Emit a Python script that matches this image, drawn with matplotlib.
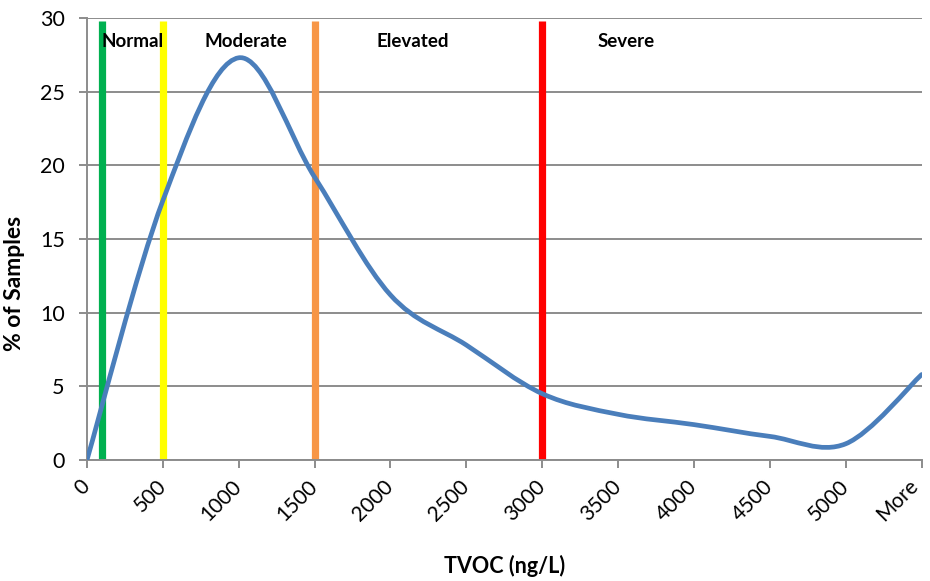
import matplotlib.pyplot as plt
import matplotlib.transforms as mtransforms
import numpy as np
from matplotlib.path import Path
from matplotlib.patches import PathPatch

# Data
categories = ['0', '500', '1000', '1500', '2000', '2500', '3000',
              '3500', '4000', '4500', '5000', 'More']
pct_samples = [0, 17.6, 27.3, 19.2, 11.2, 7.8, 4.5, 3.1, 2.4, 1.6, 1.1, 5.8]

thresholds = [100, 500, 1500, 3000]          # ng/L
threshold_colors = ['#00B050', '#FFFF00', '#F79646', '#FF0000']
bin_width = 500

zones = ['Normal', 'Moderate', 'Elevated', 'Severe']
zone_x = [300, 1050, 2150, 3550]             # label centres, ng/L


def smooth_path(xs, ys):
    # Excel-like smoothed line: cubic Bezier through every point
    pts = np.column_stack([xs, ys]).astype(float)
    n = len(pts)
    verts = [pts[0]]
    codes = [Path.MOVETO]
    for i in range(n - 1):
        p0 = pts[i - 1] if i > 0 else pts[i]
        p1 = pts[i]
        p2 = pts[i + 1]
        p3 = pts[i + 2] if i + 2 < n else pts[i + 1]
        c1 = p1 + (p2 - p0) / 6
        c2 = p2 - (p3 - p1) / 6
        verts += [c1, c2, p2]
        codes += [Path.CURVE4] * 3
    return Path(verts, codes)


def main():
    plt.rcParams['font.family'] = ['Lato', 'DejaVu Sans']

    fig = plt.figure(figsize=(9.3, 5.81), dpi=100)
    ax = fig.add_axes([0.0935, 0.2083, 0.8975, 0.7607])

    xpos = np.arange(len(categories))
    ax.set_xlim(0, len(categories) - 1)
    ax.set_ylim(0, 30)

    ax.set_yticks(np.arange(0, 31, 5))
    ax.yaxis.grid(True, color='#8c8c8c', linewidth=1.4)
    ax.set_axisbelow(True)

    for t, c in zip(thresholds, threshold_colors):
        ax.plot([t / bin_width] * 2, [0, 29.8], color=c, linewidth=5.2,
                solid_capstyle='butt', zorder=2)

    patch = PathPatch(smooth_path(xpos, pct_samples), facecolor='none',
                      edgecolor='#4A7EBB', linewidth=3.4, zorder=3,
                      capstyle='round')
    ax.add_patch(patch)

    for name, zx in zip(zones, zone_x):
        ax.text(zx / bin_width, 28.4, name, ha='center', va='center',
                fontsize=13.5, fontweight='bold', zorder=4)

    # category labels drawn as texts so they can be nudged
    ax.set_xticks(xpos)
    ax.set_xticklabels([])
    for i, cat in enumerate(categories):
        dx = 0 if cat != 'More' else -7
        tr = mtransforms.offset_copy(ax.get_xaxis_transform(), fig=fig,
                                     x=dx, y=-23, units='dots')
        ax.text(xpos[i], 0, cat, transform=tr, rotation=45, ha='right',
                va='center', rotation_mode='anchor', fontsize=15,
                clip_on=False)

    ax.tick_params(axis='y', labelsize=15.5, length=6, width=1.4,
                   color='#8c8c8c', pad=10)
    ax.tick_params(axis='x', length=6, width=1.4, color='#8c8c8c', pad=6)

    for side in ('top', 'right'):
        ax.spines[side].set_visible(False)
    for side in ('left', 'bottom'):
        ax.spines[side].set_color('#8c8c8c')
        ax.spines[side].set_linewidth(1.4)

    ax.set_xlabel('TVOC (ng/L)', fontsize=15.5, fontweight='bold')
    ax.xaxis.set_label_coords(0.5, -0.215)
    ax.set_ylabel('% of Samples', fontsize=16.5, fontweight='bold')
    ax.yaxis.set_label_coords(-0.074, 0.40)

    fig.savefig('out.png', dpi=100)


if __name__ == "__main__":
    main()
